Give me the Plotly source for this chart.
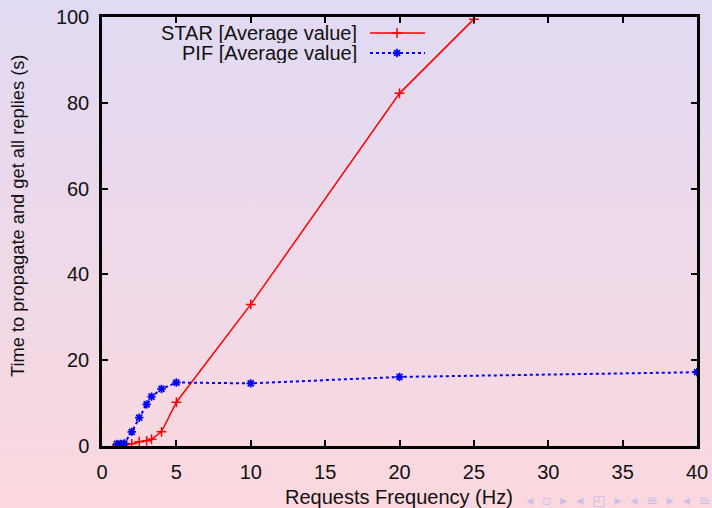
import base64
import plotly.graph_objects as go

# ---- data ----
freq_star = [1, 1.25, 1.5, 2, 2.5, 3, 3.33, 4, 5, 10, 20, 25]
star_avg = [0.2, 0.2, 0.3, 0.5, 1.0, 1.2, 1.6, 3.3, 10.2, 33.0, 82.2, 99.5]
freq_pif = [1, 1.25, 1.5, 2, 2.5, 3, 3.33, 4, 5, 10, 20, 40]
pif_avg = [0.5, 0.5, 0.6, 3.3, 6.6, 9.7, 11.5, 13.3, 14.8, 14.6, 16.1, 17.2]
series_names = ["STAR [Average value]", "PIF [Average value]"]
x_title = "Requests Frequency (Hz)"
y_title = "Time to propagate and get all replies (s)"
x_ticks = [0, 5, 10, 15, 20, 25, 30, 35, 40]
y_ticks = [0, 20, 40, 60, 80, 100]

W, H = 712, 508
L, R, T, B = 102, 15, 17, 62
PW, PH = W - L - R, H - T - B

FONT = "Liberation Sans, Arial, sans-serif"
FS = 20
TXT = "#111111"
RED = "#ff0000"
BLUE = "#0000ff"


def px(xp):
    return (xp - L) / PW


def py(yp):
    return 1 - (yp - T) / PH


svg = f'''<svg xmlns="http://www.w3.org/2000/svg" width="{W}" height="{H}" preserveAspectRatio="none" viewBox="0 0 {W} {H}">
<defs><linearGradient id="g" x1="0" y1="0" x2="0" y2="1">
<stop offset="0" stop-color="#e1daf3"/><stop offset="1" stop-color="#fbd8de"/>
</linearGradient></defs><rect width="{W}" height="{H}" fill="url(#g)"/></svg>'''
bg_uri = "data:image/svg+xml;base64," + base64.b64encode(svg.encode()).decode()

fig = go.Figure()
fig.add_trace(go.Scatter(
    x=freq_star, y=star_avg, mode="lines+markers", name=series_names[0],
    line=dict(color=RED, width=1.5),
    marker=dict(symbol="cross-thin", size=7, line=dict(color=RED, width=1.5)),
    showlegend=False))
fig.add_trace(go.Scatter(
    x=freq_pif, y=pif_avg, mode="lines+markers", name=series_names[1],
    line=dict(color=BLUE, width=2, dash="dot"),
    marker=dict(symbol="asterisk", size=7, line=dict(color=BLUE, width=1.8)),
    showlegend=False))

# legend samples (drawn on overlay axes in pixel units)
for i, (c, sym, dash, lw) in enumerate([(RED, "cross-thin", "solid", 1.5), (BLUE, "asterisk", "dot", 2)]):
    yy = 33 + 20 * i
    fig.add_trace(go.Scatter(x=[370, 425], y=[yy, yy], mode="lines", xaxis="x2", yaxis="y2",
                             line=dict(color=c, width=lw, dash=dash), showlegend=False, hoverinfo="skip"))
    fig.add_trace(go.Scatter(x=[397], y=[yy], mode="markers", xaxis="x2", yaxis="y2",
                             marker=dict(symbol=sym, size=7, line=dict(color=c, width=1.5 if i == 0 else 1.8)),
                             showlegend=False, hoverinfo="skip"))
    fig.add_annotation(x=px(358), y=py(yy), xref="paper", yref="paper",
                       text=series_names[i], showarrow=False, xanchor="right", yanchor="middle",
                       height=20, valign="middle", borderpad=0,
                       font=dict(family=FONT, size=FS, color=TXT))

# axis titles
fig.add_annotation(x=px(399), y=py(497), xref="paper", yref="paper", text=x_title,
                   showarrow=False, xanchor="center", yanchor="middle",
                   font=dict(family=FONT, size=FS, color=TXT))
fig.add_annotation(x=px(18), y=py(216), xref="paper", yref="paper", text=y_title,
                   showarrow=False, xanchor="center", yanchor="middle", textangle=-90,
                   font=dict(family=FONT, size=18.3, color=TXT))

axis_common = dict(showline=True, linecolor="black", linewidth=2.5, mirror="ticks",
                   ticks="inside", ticklen=6, tickwidth=2, tickcolor="black",
                   showgrid=False, zeroline=False, automargin=False,
                   tickfont=dict(family=FONT, size=FS, color=TXT))

fig.update_layout(
    width=W, height=H,
    margin=dict(l=L, r=R, t=T, b=B, autoexpand=False),
    paper_bgcolor="#ece0ea", plot_bgcolor="rgba(0,0,0,0)",
    showlegend=False,
    xaxis=dict(range=[0, 40], tickvals=x_ticks, ticklabelstandoff=6, **axis_common),
    yaxis=dict(range=[0, 100], tickvals=y_ticks, ticklabelstandoff=6, **axis_common),
    xaxis2=dict(range=[L, L + PW], overlaying="x", visible=False),
    yaxis2=dict(range=[T + PH, T], overlaying="y", visible=False),
    images=[dict(source=bg_uri, xref="paper", yref="paper", x=-L / PW, y=1 + T / PH,
                 sizex=W / PW, sizey=H / PH, xanchor="left", yanchor="top",
                 sizing="stretch", layer="below")],
)

fig.add_annotation(x=px(712), y=py(510), xref="paper", yref="paper",
                   text="◂  ▫  ▸  ◂  ◰  ▸  ◂  ≡  ▸  ◂  ≡", showarrow=False, xanchor="right", yanchor="bottom",
                   font=dict(family="DejaVu Sans", size=14, color="#c8c0ea"))

fig.write_html("out.html", config={"displayModeBar": False})
with open("out.html", encoding="utf-8") as f:
    html = f.read()
html = html.replace("<head>", "<head><style>html,body{margin:0;padding:0;overflow:hidden;}</style>", 1)
with open("out.html", "w", encoding="utf-8") as f:
    f.write(html)
